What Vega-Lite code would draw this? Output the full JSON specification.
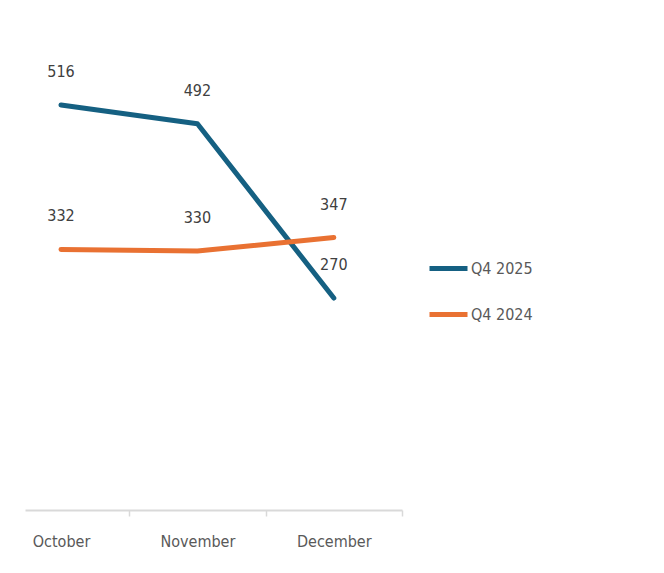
{
  "$schema": "https://vega.github.io/schema/vega-lite/v6.json",
  "width": 377,
  "height": 471,
  "autosize": "none",
  "padding": {"left": 25, "top": 39, "right": 262, "bottom": 63},
  "background": "white",
  "config": {
    "view": {"stroke": null},
    "font": "DejaVu Sans Condensed, Liberation Sans, sans-serif",
    "text": {"font": "DejaVu Sans Condensed, Liberation Sans, sans-serif"}
  },
  "data": {
    "values": [
      {"month": 10, "series": "Q4 2025", "value": 516},
      {"month": 11, "series": "Q4 2025", "value": 492},
      {"month": 12, "series": "Q4 2025", "value": 270},
      {"month": 10, "series": "Q4 2024", "value": 332},
      {"month": 11, "series": "Q4 2024", "value": 330},
      {"month": 12, "series": "Q4 2024", "value": 347}
    ]
  },
  "encoding": {
    "x": {
      "field": "month",
      "type": "quantitative",
      "scale": {"domain": [9.736, 12.5], "nice": false, "zero": false},
      "axis": {
        "title": null,
        "grid": false,
        "values": [10, 10.5, 11, 11.5, 12, 12.5],
        "labelExpr": "datum.value == 10 ? 'October' : datum.value == 11 ? 'November' : datum.value == 12 ? 'December' : ''",
        "labelFont": "DejaVu Sans Condensed, Liberation Sans, sans-serif",
        "labelFontSize": 16,
        "labelColor": "#595959",
        "labelPadding": 17,
        "labelOverlap": false,
        "labelFlush": false,
        "labelBound": false,
        "domainColor": "#D9D9D9",
        "domainWidth": 2,
        "tickColor": "#D9D9D9",
        "tickWidth": 1.5,
        "tickSize": 6,
        "tickOpacity": {"condition": {"test": "datum.value % 1 === 0", "value": 0}, "value": 1}
      }
    },
    "y": {
      "field": "value",
      "type": "quantitative",
      "scale": {"domain": [0, 600], "nice": false},
      "axis": null
    }
  },
  "layer": [
    {
      "mark": {"type": "line", "strokeWidth": 5, "strokeCap": "round", "strokeJoin": "round"},
      "encoding": {
        "color": {
          "field": "series",
          "type": "nominal",
          "scale": {"domain": ["Q4 2025", "Q4 2024"], "range": ["#156082", "#E97132"]},
          "legend": {
            "title": null,
            "orient": "none",
            "legendX": 402,
            "legendY": 208,
            "symbolType": "stroke",
            "symbolSize": 1444,
            "symbolStrokeWidth": 5,
            "labelFont": "DejaVu Sans Condensed, Liberation Sans, sans-serif",
            "labelFontSize": 16,
            "labelColor": "#595959",
            "labelOffset": 1,
            "rowPadding": 14
          }
        }
      }
    },
    {
      "mark": {"type": "text", "dy": -33, "fontSize": 16, "color": "#404040", "font": "DejaVu Sans Condensed, Liberation Sans, sans-serif"},
      "encoding": {
        "text": {"field": "value", "type": "quantitative"}
      }
    }
  ]
}
